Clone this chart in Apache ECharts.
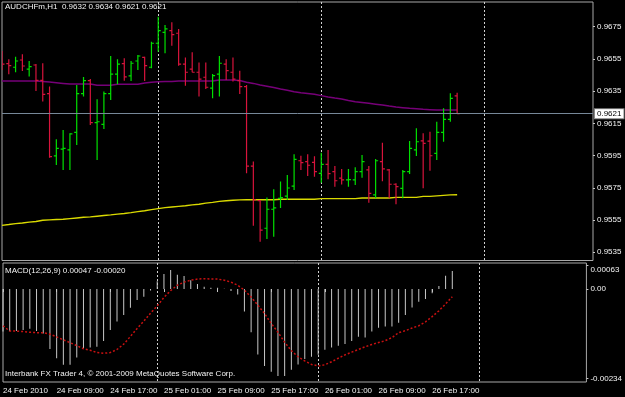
<!DOCTYPE html>
<html>
<head>
<meta charset="utf-8">
<title>AUDCHFm,H1</title>
<script src="https://cdn.jsdelivr.net/npm/echarts@6/dist/echarts.min.js"></script>
<style>
  html, body { margin: 0; padding: 0; background: #000; }
  #main { width: 625px; height: 397px; }
</style>
</head>
<body>
<div id="main"></div>
<script>
var symbolName = 'AUDCHFm,H1';
var firstBar = Date.UTC(2010, 1, 24, 1); // 24 Feb 2010 01:00, hourly bars
var slotCount = 88;                       // bars + empty shift area on the right

var open = [0.96562,0.96520,0.96498,0.96543,0.96487,0.96512,0.96417,0.96334,0.95948,0.95990,
  0.95985,0.96094,0.96334,0.96415,0.96154,0.96144,0.96334,0.96455,0.96520,0.96444,
  0.96537,0.96560,0.96498,0.96647,0.96715,0.96725,0.96709,0.96517,0.96487,0.96467,
  0.96436,0.96368,0.96456,0.96518,0.96467,0.96415,0.96378,0.95885,0.95670,0.95499,
  0.95617,0.95685,0.95698,0.95761,0.95918,0.95912,0.95908,0.95840,0.95896,0.95850,
  0.95810,0.95799,0.95799,0.95850,0.95861,0.95706,0.95912,0.95861,0.95772,0.95747,
  0.95850,0.95985,0.96041,0.96040,0.95964,0.96094,0.96175,0.9632];
var high = [0.96599,0.96548,0.96564,0.96579,0.96537,0.96518,0.96523,0.96378,0.96051,0.96109,
  0.96088,0.96388,0.96438,0.96425,0.96299,0.96347,0.96568,0.96548,0.96554,0.96537,
  0.96574,0.96564,0.96657,0.96812,0.96760,0.96777,0.96736,0.96558,0.96591,0.96527,
  0.96527,0.96456,0.96568,0.96548,0.96558,0.96477,0.96388,0.95913,0.95675,0.95690,
  0.95741,0.95789,0.95830,0.95958,0.95949,0.95958,0.95946,0.95968,0.95985,0.95885,
  0.95867,0.95867,0.95877,0.95954,0.95885,0.95929,0.96030,0.95867,0.95778,0.95861,
  0.96041,0.96119,0.96088,0.96098,0.96160,0.96244,0.96337,0.9634];
var low = [0.96481,0.96455,0.96467,0.96475,0.96440,0.96351,0.96285,0.95937,0.95892,0.95861,
  0.95861,0.96016,0.96316,0.96140,0.95923,0.96115,0.96295,0.96393,0.96415,0.96413,
  0.96481,0.96413,0.96492,0.96595,0.96585,0.96632,0.96508,0.96384,0.96467,0.96316,
  0.96363,0.96306,0.96316,0.96419,0.96409,0.96332,0.95840,0.95515,0.95416,0.95433,
  0.95447,0.95624,0.95675,0.95737,0.95861,0.95823,0.95818,0.95782,0.95803,0.95757,
  0.95771,0.95757,0.95767,0.95813,0.95658,0.95685,0.95791,0.95685,0.95648,0.95685,
  0.95836,0.95948,0.95747,0.95856,0.95923,0.96036,0.96160,0.9621];
var close = [0.96517,0.96508,0.96537,0.96506,0.96502,0.96417,0.96330,0.95943,0.95995,0.95995,
  0.96085,0.96334,0.96415,0.96154,0.96160,0.96334,0.96455,0.96517,0.96438,0.96523,
  0.96568,0.96508,0.96647,0.96725,0.96736,0.96700,0.96517,0.96467,0.96467,0.96425,
  0.96374,0.96446,0.96523,0.96477,0.96424,0.96378,0.95885,0.95675,0.95488,0.95617,
  0.95625,0.95689,0.95749,0.95927,0.95906,0.95890,0.95850,0.95896,0.95838,0.95794,
  0.95799,0.95801,0.95850,0.95912,0.95716,0.95918,0.95867,0.95772,0.95757,0.95850,
  0.95995,0.96036,0.96026,0.95949,0.96094,0.96175,0.96305,0.9621];

var maPurple = [0.96413,0.96413,0.96413,0.96413,0.96413,0.96413,0.96410,0.96406,0.96402,0.96398,
  0.96394,0.96394,0.96394,0.96394,0.96387,0.96387,0.96387,0.96393,0.96393,0.96393,
  0.96393,0.96400,0.96405,0.96408,0.96410,0.96410,0.96413,0.96413,0.96413,0.96413,
  0.96413,0.96413,0.96419,0.96419,0.96419,0.96416,0.96405,0.96398,0.96388,0.96380,
  0.96372,0.96363,0.96355,0.96346,0.96340,0.96335,0.96330,0.96322,0.96314,0.96307,
  0.96301,0.96292,0.96284,0.96279,0.96274,0.96269,0.96264,0.96257,0.96251,0.96247,
  0.96243,0.96240,0.96237,0.96235,0.96233,0.96233,0.96233,0.96233];
var maYellow = [0.95517,0.95522,0.95528,0.95532,0.95537,0.95541,0.95549,0.95551,0.95553,0.95555,
  0.95559,0.95563,0.95567,0.95570,0.95574,0.95578,0.95582,0.95587,0.95591,0.95596,
  0.95602,0.95608,0.95615,0.95621,0.95627,0.95631,0.95635,0.95639,0.95644,0.95648,
  0.95655,0.95660,0.95666,0.95670,0.95673,0.95675,0.95676,0.95676,0.95676,0.95676,
  0.95676,0.95679,0.95679,0.95679,0.95679,0.95679,0.95679,0.95683,0.95683,0.95683,
  0.95683,0.95683,0.95683,0.95687,0.95687,0.95687,0.95687,0.95687,0.95691,0.95691,
  0.95691,0.95691,0.95697,0.95697,0.95700,0.95703,0.95706,0.95707];

var macdMain = [-0.00111,-0.00110,-0.00110,-0.00107,-0.00104,-0.00110,-0.00116,-0.00157,-0.00181,-0.00198,
  -0.00198,-0.00179,-0.00155,-0.00153,-0.00151,-0.00136,-0.00107,-0.00085,-0.00068,-0.00049,
  -0.00029,-0.00020,-0.00004,0.00020,0.00039,0.00050,0.00037,0.00034,0.00023,0.00013,
  0.00006,0.00003,0.00003,0.00001,-0.00005,-0.00014,-0.00059,-0.00113,-0.00171,-0.00201,
  -0.00216,-0.00227,-0.00227,-0.00211,-0.00197,-0.00183,-0.00177,-0.00172,-0.00159,-0.00153,
  -0.00148,-0.00144,-0.00136,-0.00125,-0.00127,-0.00111,-0.00101,-0.00098,-0.00098,-0.00088,
  -0.00068,-0.00048,-0.00033,-0.00026,-0.00011,0.00008,0.00035,0.00047];
var macdSignal = [-0.00096,-0.00110,-0.00110,-0.00111,-0.00113,-0.00114,-0.00114,-0.00118,-0.00125,-0.00133,
  -0.00140,-0.00148,-0.00156,-0.00160,-0.00166,-0.00168,-0.00166,-0.00158,-0.00144,-0.00124,
  -0.00103,-0.00084,-0.00063,-0.00044,-0.00022,-0.00004,0.00010,0.00018,0.00023,0.00026,
  0.00027,0.00026,0.00026,0.00023,0.00018,0.00010,-0.00003,-0.00021,-0.00042,-0.00064,
  -0.00090,-0.00113,-0.00139,-0.00161,-0.00177,-0.00188,-0.00197,-0.00201,-0.00198,-0.00190,
  -0.00181,-0.00172,-0.00165,-0.00158,-0.00151,-0.00145,-0.00140,-0.00135,-0.00127,-0.00114,
  -0.00109,-0.00102,-0.00096,-0.00086,-0.00072,-0.00057,-0.00039,-0.00020];

var priceTicks = [0.9535, 0.9555, 0.9575, 0.9595, 0.9615, 0.9635, 0.9655, 0.9675];
var macdTicks = [-0.00234, 0, 0.00063];

var months = ['Jan','Feb','Mar','Apr','May','Jun','Jul','Aug','Sep','Oct','Nov','Dec'];
var times = [];
for (var i = 0; i < slotCount; i++) {
  var d = new Date(firstBar + i * 3600000);
  var hh = d.getUTCHours();
  times.push({
    hour: hh,
    label: i === 0 ? d.getUTCDate() + ' ' + months[d.getUTCMonth()] + ' ' + d.getUTCFullYear()
                   : d.getUTCDate() + ' ' + months[d.getUTCMonth()] + ' ' + (hh < 10 ? '0' : '') + hh + ':00'
  });
}
var categories = times.map(function (t, i) { return i + ''; });

var last = close.length - 1;
var ohlc = [];
for (var i = 0; i < close.length; i++) ohlc.push([i, open[i], high[i], low[i], close[i]]);

var upColor = '#00e000', downColor = '#d8143c';
var font = 'Liberation Sans, Arial, sans-serif';
var white = '#f4f4f4';

function dayStart(idx) { return times[idx] && times[idx].hour === 0; }
function labelled(idx) { return idx % 8 === 0 && idx <= last; }

function renderBar(params, api) {
  var x = api.value(0);
  var o = api.coord([x, api.value(1)]);
  var h = api.coord([x, api.value(2)]);
  var l = api.coord([x, api.value(3)]);
  var c = api.coord([x, api.value(4)]);
  var col = api.value(4) >= api.value(1) ? upColor : downColor;
  var st = { stroke: col, lineWidth: 1.2 };
  return {
    type: 'group',
    children: [
      { type: 'line', shape: { x1: h[0], y1: h[1], x2: l[0], y2: l[1] }, style: st },
      { type: 'line', shape: { x1: o[0] - 2.5, y1: o[1], x2: o[0], y2: o[1] }, style: st },
      { type: 'line', shape: { x1: c[0], y1: c[1], x2: c[0] + 2.5, y2: c[1] }, style: st }
    ]
  };
}

var chart = echarts.init(document.getElementById('main'));
chart.setOption({
  animation: false,
  backgroundColor: '#000',
  textStyle: { fontFamily: font },
  title: [
    { text: symbolName + '  ' + [open[last], high[last], low[last], close[last]].map(function (v) { return v.toFixed(4); }).join(' '),
      left: 5, top: 3, padding: 0, textStyle: { color: white, fontSize: 8, fontWeight: 'normal', fontFamily: font } },
    { text: 'MACD(12,26,9) ' + macdMain[last].toFixed(5) + ' ' + macdSignal[last].toFixed(5),
      left: 5, top: 267, padding: 0, textStyle: { color: white, fontSize: 8, fontWeight: 'normal', fontFamily: font } },
    { text: 'Interbank FX Trader 4, \u00a9 2001-2009 MetaQuotes Software Corp.',
      left: 5, top: 370, padding: 0, textStyle: { color: white, fontSize: 8, fontWeight: 'normal', fontFamily: font } }
  ],
  grid: [
    { left: 2, right: 32, top: 2, height: 258.5, show: true, borderColor: '#a8a8a8', borderWidth: 1 },
    { left: 2, right: 32, top: 263, height: 119, show: true, borderColor: '#a8a8a8', borderWidth: 1 }
  ],
  xAxis: [
    { type: 'category', gridIndex: 0, data: categories, boundaryGap: false,
      axisLine: { show: false }, axisTick: { show: false }, axisLabel: { show: false },
      splitLine: { show: true, interval: dayStart, lineStyle: { color: '#d0d0d0', width: 1, type: [2, 2] } } },
    { type: 'category', gridIndex: 1, data: categories, boundaryGap: false,
      axisLine: { show: false },
      axisTick: { show: true, interval: labelled, length: 3, lineStyle: { color: '#c8c8c8' } },
      axisLabel: { show: true, interval: labelled, align: 'left', margin: 5, color: white, fontSize: 8, fontFamily: font,
        formatter: function (v, idx) { return times[+v].label; } },
      splitLine: { show: true, interval: dayStart, lineStyle: { color: '#d0d0d0', width: 1, type: [2, 2] } } }
  ],
  yAxis: [
    { type: 'value', gridIndex: 0, position: 'right', scale: true, min: 0.95299, max: 0.96903,
      axisLine: { show: false }, splitLine: { show: false },
      axisTick: { show: true, length: 2, customValues: priceTicks, lineStyle: { color: '#c8c8c8' } },
      axisLabel: { show: true, margin: 4, color: white, fontSize: 8, fontFamily: font, customValues: priceTicks,
        formatter: function (v) { return v.toFixed(4); } } },
    { type: 'value', gridIndex: 1, position: 'right', min: -0.00243, max: 0.00068,
      axisLine: { show: false }, splitLine: { show: false },
      axisTick: { show: true, length: 2, customValues: macdTicks, lineStyle: { color: '#c8c8c8' } },
      axisLabel: { show: true, margin: 4, color: white, fontSize: 8, fontFamily: font, customValues: macdTicks,
        formatter: function (v) { return v === 0 ? '0.00' : (v > 0 ? '{t|' + v.toFixed(5) + '}' : v.toFixed(5)); },
        rich: { t: { color: white, fontSize: 8, fontFamily: font, padding: [9, 0, 0, 0] } } } }
  ],
  series: [
    { name: 'MA purple', type: 'line', xAxisIndex: 0, yAxisIndex: 0, data: maPurple, showSymbol: false,
      lineStyle: { color: '#760078', width: 1.5 }, z: 2,
      markLine: { silent: true, symbol: ['none', 'none'], precision: 5,
        lineStyle: { color: '#778899', width: 1, type: 'solid' },
        label: { show: true, position: 'end', distance: 2, formatter: close[last].toFixed(4),
          color: '#000', backgroundColor: '#fff', borderColor: '#888', borderWidth: 1, padding: [1, 2, 0, 2],
          fontSize: 8, fontFamily: font },
        data: [{ yAxis: close[last] }] } },
    { name: 'MA yellow', type: 'line', xAxisIndex: 0, yAxisIndex: 0, data: maYellow, showSymbol: false,
      lineStyle: { color: '#dada00', width: 1.4 }, z: 2 },
    { name: 'Bars', type: 'custom', xAxisIndex: 0, yAxisIndex: 0, data: ohlc, renderItem: renderBar,
      encode: { x: 0, y: [1, 2, 3, 4] }, clip: true, z: 3 },
    { name: 'MACD', type: 'bar', xAxisIndex: 1, yAxisIndex: 1, data: macdMain, barWidth: 1,
      itemStyle: { color: '#c8c8c8' }, z: 2 },
    { name: 'Signal', type: 'line', xAxisIndex: 1, yAxisIndex: 1, data: macdSignal, showSymbol: false,
      lineStyle: { color: '#c81010', width: 1.5, type: [2, 2] }, z: 3 }
  ]
});
</script>
</body>
</html>
